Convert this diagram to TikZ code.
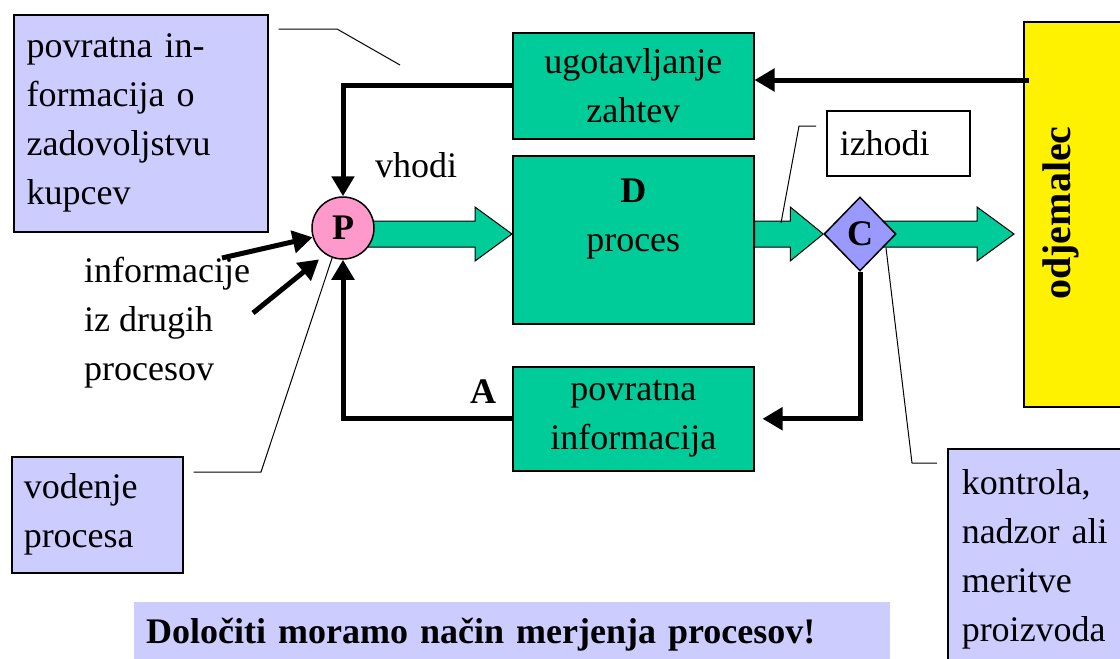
\documentclass[tikz,border=0pt]{standalone}
\usepackage{fontspec}
\setmainfont{Liberation Serif}
\usetikzlibrary{arrows.meta,positioning,shapes.geometric,calc,backgrounds}

\definecolor{boxgreen}{RGB}{0,204,153}
\definecolor{notelilac}{RGB}{204,204,255}
\definecolor{ppink}{RGB}{255,153,204}
\definecolor{clilac}{RGB}{153,153,255}

% wide green flow arrow: start, end, head length
\newcommand{\fatarrow}[3]{%
  \filldraw[fill=boxgreen, draw=black, line width=1pt] let \p1=(#1), \p2=(#2) in
    (\x1,\y2+13pt) -- (\x2-#3,\y2+13pt) -- (\x2-#3,\y2+27pt) -- (\x2,\y2)
    -- (\x2-#3,\y2-27pt) -- (\x2-#3,\y2-13pt) -- (\x1,\y2-13pt) -- cycle;}

\begin{document}
\begin{tikzpicture}[x=1pt,y=-1pt,
		txt/.style={font=\fontsize{36}{49}\selectfont},
		bold/.style={font=\fontsize{36}{49}\selectfont\bfseries},
		note/.style={txt, draw, line width=1.5pt, fill=notelilac, align=left, anchor=north west, inner xsep=12pt},
		block/.style={txt, draw, line width=1.5pt, fill=boxgreen, align=center, anchor=north west, minimum width=241pt},
		feed/.style={line width=5pt, -{Triangle[length=20pt,width=22pt]}},
		lead/.style={line width=1pt},
	]
	\useasboundingbox (0,0) rectangle (1120,659);
	\coordinate (flow) at (0,234);

	\node[note, minimum width=254pt, minimum height=217pt, text width=228pt] (kupci) at (13,14) {povratna in-\\formacija o\\zadovoljstvu\\kupcev};
	\node[note, minimum width=171pt, minimum height=116pt, text width=147pt] (voden) at (11,456) {vodenje\\procesa};
	\node[note, minimum width=190pt, minimum height=222pt, text width=165pt, inner xsep=14pt] (kontr) at (947,448) {kontrola,\\nadzor ali\\meritve\\proizvoda};

	\node[block, minimum height=106pt] (ugot) at (512,32) {ugotavljanje\\zahtev};
	\node[block, minimum height=168pt, text depth=50pt] (proc) at (512,155) {\textbf{D}\\proces};
	\node[block, minimum height=104pt] (povinf) at (512,366) {povratna\\informacija};

	\node[circle, draw, line width=1.5pt, fill=ppink, minimum size=62pt, inner sep=0pt, bold] (P) at (343,228) {P};
	\node[diamond, draw, line width=1.5pt, fill=clilac, minimum width=72pt, minimum height=74pt, inner sep=0pt, bold] (C) at (860,234) {C};

	\node[draw, line width=1.5pt, fill=yellow, anchor=north west, minimum width=130pt, minimum height=385pt] (odj) at (1023,21) {};
	\node[font=\fontsize{40}{48}\selectfont\bfseries, rotate=90, inner sep=0pt] (odjtxt) at (1061,213) {odjemalec};
	\coordinate (odjtip) at (1014,234);
	\coordinate (odjout) at (1029,80);

	\node[txt, draw, line width=1.5pt, fill=white, anchor=north west, minimum width=143pt, minimum height=65pt, text width=117pt, align=left, inner xsep=13pt] (izhodi) at (826,110) {izhodi};
	\node[bold, fill=notelilac, anchor=north west, minimum width=756pt, minimum height=64pt, text width=732pt, align=left, inner xsep=12pt] (motto) at (134,602) {Določiti moramo način merjenja procesov!};

	\node[txt, anchor=base west, inner sep=0pt] (vhodi) at (375,177) {vhodi};
	\node[txt, anchor=north west, align=left, inner sep=0pt] (drugi) at (84,257) {informacije\\iz drugih\\procesov};
	\node[bold, anchor=base, inner sep=0pt] (A) at (483,403) {A};

	% green flow through the process
	\begin{scope}[on background layer]
		\fatarrow{P}{proc.west |- flow}{37pt}
		\fatarrow{proc.east}{C.west}{33pt}
		\fatarrow{C}{odjtip}{37pt}
	\end{scope}

	% feedback loops
	\draw[feed] (ugot.west) -| (P.north);
	\draw[feed] (povinf.west) -| (P.south);
	\draw[feed] (odjout) -- (odjout -| ugot.east);
	\draw[feed] (C.south) |- ([xshift=8pt]povinf.east);

	\coordinate (in1) at (222,258);
	\coordinate (in2) at (253,313);
	\draw[feed] (in1) -- (P.197);
	\draw[feed, shorten >=8pt] (in2) -- (P.236);

	% callout lines
	\draw[lead] ($(kupci.north east)+(10,15)$) -- (337,29) -- (400,65);
	\draw[lead] ($(izhodi.north west)+(-10,16)$) -- (799,126) -- (781,223);
	\draw[lead] (P.250) -- (261,472) -- ($(voden.north east)+(10,16)$);
	\draw[lead] (886,248) -- (912,463) -- ($(kontr.north west)+(-10,15)$);
\end{tikzpicture}
\end{document}
